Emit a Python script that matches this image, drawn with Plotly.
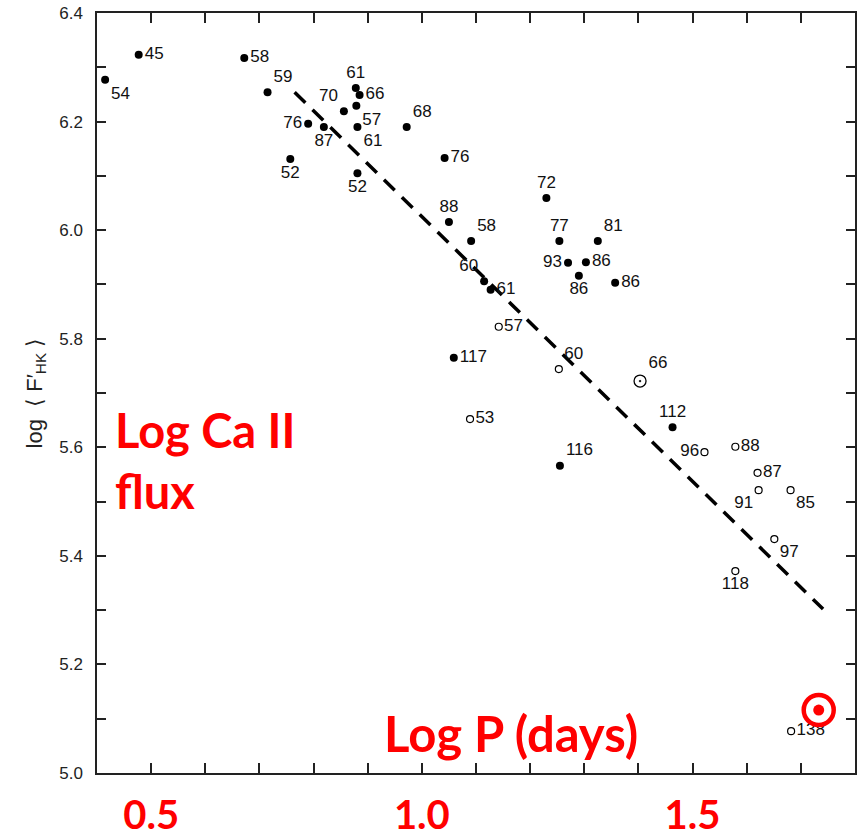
import plotly.graph_objects as go

# ---- data ----
filled_x = [0.415, 0.477, 0.672, 0.715, 0.790, 0.819, 0.856, 0.878, 0.885, 0.879, 0.881,
            0.757, 0.881, 0.972, 1.042, 1.230, 1.050, 1.091, 1.254, 1.325, 1.270, 1.303,
            1.290, 1.357, 1.115, 1.127, 1.059, 1.463, 1.255]
filled_y = [6.277, 6.323, 6.317, 6.254, 6.196, 6.190, 6.219, 6.262, 6.249, 6.229, 6.190,
            6.131, 6.105, 6.190, 6.133, 6.059, 6.015, 5.980, 5.980, 5.980, 5.940, 5.941,
            5.916, 5.903, 5.906, 5.890, 5.765, 5.637, 5.566]
filled_labels = ["54", "45", "58", "59", "76", "87", "70", "61", "66", "57", "61",
                 "52", "52", "68", "76", "72", "88", "58", "77", "81", "93", "86",
                 "86", "86", "60", "61", "117", "112", "116"]
filled_pos = ["bottom right", "middle right", "middle right", "top right", "middle left",
              "bottom center", "top left", "top center", "middle right", "bottom right",
              "bottom right", "bottom center", "bottom center", "top right", "middle right",
              "top center", "top center", "top right", "top center", "top right",
              "middle left", "middle right", "bottom center", "middle right", "top left",
              "middle right", "middle right", "top center", "top right"]

open_x = [1.142, 1.253, 1.089, 1.522, 1.579, 1.620, 1.622, 1.681, 1.651, 1.579, 1.682]
open_y = [5.822, 5.744, 5.652, 5.591, 5.601, 5.553, 5.521, 5.521, 5.431, 5.372, 5.077]
open_labels = ["57", "60", "53", "96", "88", "87", "91", "85", "97", "118", "138"]
open_pos = ["middle right", "top right", "middle right", "middle left", "middle right",
            "middle right", "bottom left", "bottom right", "bottom right", "bottom center",
            "middle right"]

sun_x = [1.403]
sun_y = [5.722]
sun_labels = ["66"]

fit_x = [0.765, 1.741]
fit_y = [6.254, 5.302]

red_sun_x = [1.733]
red_sun_y = [5.116]

y_tickvals = [5.0, 5.1, 5.2, 5.3, 5.4, 5.5, 5.6, 5.7, 5.8, 5.9, 6.0, 6.1, 6.2, 6.3, 6.4]
y_ticktext = ["5.0", "", "5.2", "", "5.4", "", "5.6", "", "5.8", "", "6.0", "", "6.2", "", "6.4"]
x_tickvals = [0.5, 0.6, 0.7, 0.8, 0.9, 1.0, 1.1, 1.2, 1.3, 1.4, 1.5, 1.6, 1.7]
x_ticktext = ["0.5", "", "", "", "", "1.0", "", "", "", "", "1.5", "", ""]

LABEL_FONT = dict(family="Liberation Sans, Arial, sans-serif", size=17, color="#111")
RED = "#ff0000"

fig = go.Figure()

fig.add_trace(go.Scatter(
    x=fit_x, y=fit_y, mode="lines",
    line=dict(color="black", width=3.5, dash="15px,10px"),
    hoverinfo="skip", showlegend=False))

fig.add_trace(go.Scatter(
    x=filled_x, y=filled_y, mode="markers+text",
    marker=dict(symbol="circle", size=8, color="black"),
    text=filled_labels, textposition=filled_pos, textfont=LABEL_FONT,
    showlegend=False))

fig.add_trace(go.Scatter(
    x=open_x, y=open_y, mode="markers+text",
    marker=dict(symbol="circle-open", size=7, color="black", line=dict(width=1.2)),
    text=open_labels, textposition=open_pos, textfont=LABEL_FONT,
    showlegend=False))

fig.add_trace(go.Scatter(
    x=sun_x, y=sun_y, mode="markers+text",
    marker=dict(symbol="circle-open-dot", size=12, color="black", line=dict(width=1.3)),
    text=sun_labels, textposition="top right", textfont=LABEL_FONT,
    showlegend=False))

fig.add_trace(go.Scatter(
    x=red_sun_x, y=red_sun_y, mode="markers",
    marker=dict(symbol="circle-open", size=30, color=RED, line=dict(width=4.5)),
    showlegend=False))
fig.add_trace(go.Scatter(
    x=red_sun_x, y=red_sun_y, mode="markers",
    marker=dict(symbol="circle", size=11, color=RED),
    showlegend=False))

L, R, T, B = 97, 6, 13, 65
W, H = 861, 838
pw, ph = W - L - R, H - T - B


def px_x(p):
    return (p - L) / pw


def px_y(p):
    return (H - B - p) / ph


fig.add_annotation(
    text="Log Ca II<br>flux", xref="paper", yref="paper",
    x=px_x(113), y=px_y(460), xanchor="left", yanchor="middle", align="left",
    showarrow=False, font=dict(family="Lato, sans-serif", size=47, color=RED, weight="bold"))

fig.add_annotation(
    text="Log P (days)", xref="paper", yref="paper",
    x=px_x(511), y=px_y(733), xanchor="center", yanchor="middle",
    showarrow=False, font=dict(family="Lato, sans-serif", size=49, color=RED, weight="bold"))

axis_common = dict(
    showline=True, linecolor="#222", linewidth=1.5, mirror="ticks",
    ticks="inside", tickcolor="#222", tickwidth=1.5, showgrid=False, zeroline=False)

fig.update_xaxes(
    range=[0.4, 1.8], tickmode="array", tickvals=x_tickvals, ticktext=x_ticktext,
    ticklen=10, tickfont=dict(family="Lato, sans-serif", size=40, color=RED, weight="bold"),
    ticklabelstandoff=6, **axis_common)

fig.update_yaxes(
    range=[5.0, 6.4], tickmode="array", tickvals=y_tickvals, ticktext=y_ticktext,
    ticklen=9, tickfont=dict(family="Liberation Sans, Arial, sans-serif", size=17, color="#222"),
    ticklabelstandoff=9,
    title=dict(text="log  ⟨ F′<sub>HK</sub> ⟩",
               font=dict(family="Liberation Sans, Arial, sans-serif", size=22, color="#222"),
               standoff=11),
    **axis_common)

fig.update_layout(
    width=W, height=H, autosize=False,
    margin=dict(l=L, r=R, t=T, b=B, autoexpand=False),
    plot_bgcolor="white", paper_bgcolor="white",
    showlegend=False)

fig.write_html("out.html")
